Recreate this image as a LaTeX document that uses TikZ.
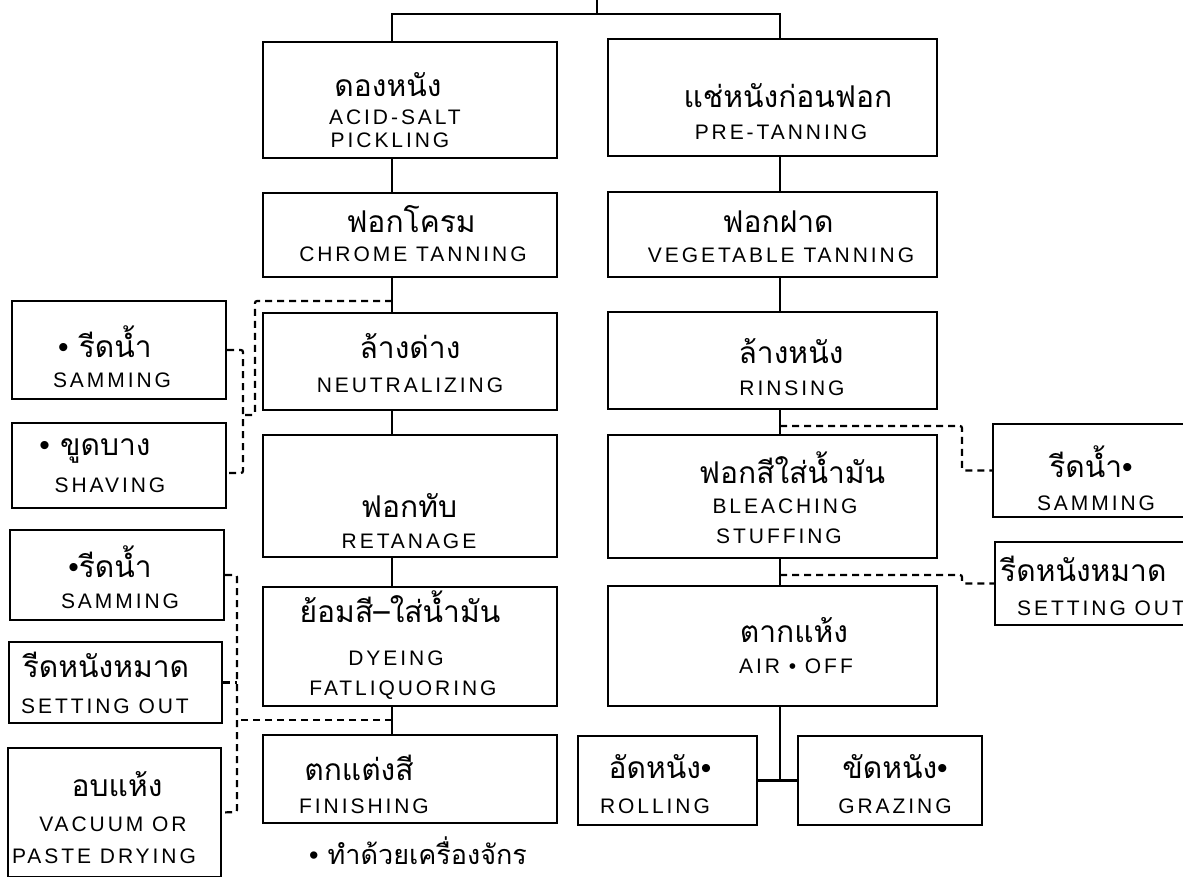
\documentclass[tikz,border=0pt]{standalone}
\usepackage{fontspec}
\newfontfamily\thaif[Script=Thai]{Loma}
\newfontfamily\enf[LetterSpace=14]{Liberation Sans}
\newfontfamily\bltf{Liberation Sans}
\newcommand\bl{{\bltf •}}
\newcommand\boxat[5]{\node[procbox, minimum width={#4-#2}, minimum height={#5-#3}] (#1) at ({(#2+#4)/2},{(#3+#5)/2}) {};}
\begin{document}
\begin{tikzpicture}[x=1pt,y=-1pt,
  procbox/.style={draw, line width=2.2pt, inner sep=0pt},
  conn/.style={line width=2.6pt},
  dsh/.style={line width=2.2pt, dash pattern=on 7pt off 5pt, rounded corners=2pt},
  th/.style={font=\thaif\fontsize{30}{32}\selectfont, inner sep=0pt, anchor=base},
  en/.style={font=\enf\fontsize{21}{23}\selectfont, inner sep=0pt, anchor=base},
  note/.style={font=\thaif\fontsize{27}{29}\selectfont, inner sep=0pt, anchor=base}]
\useasboundingbox (0,0) rectangle (1183,877);
\clip (0,0) rectangle (1183,877);
\fill[white] (0,0) rectangle (1183,877);
% coordinates
\coordinate (stem) at (597,0);
\coordinate (cl) at (392,14);
\coordinate (cr) at (780,14);
% left column
\boxat{A1}{263}{42}{557}{158}
\boxat{A2}{263}{193}{557}{277}
\boxat{A3}{263}{313}{557}{410}
\boxat{A4}{263}{435}{557}{557}
\boxat{A5}{263}{587}{557}{706}
\boxat{A6}{263}{735}{557}{823}
% right column
\boxat{B1}{608}{39}{937}{156}
\boxat{B2}{608}{192}{937}{277}
\boxat{B3}{608}{312}{937}{409}
\boxat{B4}{608}{435}{937}{558}
\boxat{B5}{608}{586}{937}{706}
\boxat{Ro}{578}{736}{757}{825}
\boxat{Gr}{798}{736}{982}{825}
% left side
\boxat{L1}{12}{301}{226}{399}
\boxat{L2}{12}{423}{226}{508}
\boxat{L3}{10}{530}{224}{620}
\boxat{L4}{9}{642}{222}{723}
\boxat{L5}{8}{748}{221}{877}
% right side
\boxat{R1}{993}{424}{1195}{517}
\boxat{R2}{995}{542}{1195}{625}
% texts
\node[th] (A1t) at (388,97) {ดองหนัง};
\node[en] (A1e) at (395,125) {ACID-SALT};
\node[en] (A1f) at (390,148) {PICKLING};
\node[th] (A2t) at (411,233) {ฟอกโครม};
\node[en] (A2e) at (413,262) {CHROME TANNING};
\node[th] (A3t) at (410,358) {ล้างด่าง};
\node[en] (A3e) at (410,392) {NEUTRALIZING};
\node[th] (A4t) at (409,517) {ฟอกทับ};
\node[en] (A4e) at (409,548) {RETANAGE};
\node[th] (A5t) at (400,622) {ย้อมสี–ใส่น้ำมัน};
\node[en] (A5e) at (396,665) {DYEING};
\node[en] (A5f) at (403,695) {FATLIQUORING};
\node[th] (A6t) at (359,780) {ตกแต่งสี};
\node[en] (A6e) at (364,813) {FINISHING};
\node[th] (B1t) at (788,108) {แช่หนังก่อนฟอก};
\node[en] (B1e) at (781,140) {PRE-TANNING};
\node[th] (B2t) at (778,233) {ฟอกฝาด};
\node[en] (B2e) at (781,263) {VEGETABLE TANNING};
\node[th] (B3t) at (791,363) {ล้างหนัง};
\node[en] (B3e) at (792,395) {RINSING};
\node[th] (B4t) at (792,483) {ฟอกสีใส่น้ำมัน};
\node[en] (B4e) at (785,513) {BLEACHING};
\node[en] (B4f) at (779,543) {STUFFING};
\node[th] (B5t) at (794,642) {ตากแห้ง};
\node[en] (B5e) at (796,673) {AIR • OFF};
\node[th] (Rot) at (660,778) {อัดหนัง\bl};
\node[en] (Roe) at (655,813) {ROLLING};
\node[th] (Grt) at (895,778) {ขัดหนัง\bl};
\node[en] (Gre) at (895,813) {GRAZING};
\node[th] (L1t) at (105,357) {\bl\ รีดน้ำ};
\node[en] (L1e) at (112,387) {SAMMING};
\node[th] (L2t) at (95,455) {\bl\ ขูดบาง};
\node[en] (L2e) at (110,492) {SHAVING};
\node[th] (L3t) at (110,577) {\bl รีดน้ำ};
\node[en] (L3e) at (120,608) {SAMMING};
\node[th] (L4t) at (106,677) {รีดหนังหมาด};
\node[en] (L4e) at (105,713) {SETTING OUT};
\node[th] (L5t) at (117,796) {อบแห้ง};
\node[en] (L5e) at (113,831) {VACUUM OR};
\node[en] (L5f) at (104,863) {PASTE DRYING};
\node[th] (R1t) at (1091,477) {รีดน้ำ\bl};
\node[en] (R1e) at (1096,510) {SAMMING};
\node[th, anchor=base west] (R2t) at (1000,581) {รีดหนังหมาด};
\node[en, anchor=base west] (R2e) at (1017,615) {SETTING OUT};
\node[note] (foot) at (418,864) {\bl\ ทำด้วยเครื่องจักร};
% solid connectors
\draw[conn] (stem) -- (stem |- cl);
\draw[conn] (cl |- A1.north) -- (cl) -- (cr) -- (cr |- B1.north);
\draw[conn] (A1.south -| cl) -- (A2.north -| cl);
\draw[conn] (A2.south -| cl) -- (A3.north -| cl);
\draw[conn] (A3.south -| cl) -- (A4.north -| cl);
\draw[conn] (A4.south -| cl) -- (A5.north -| cl);
\draw[conn] (A5.south -| cl) -- (A6.north -| cl);
\draw[conn] (B1.south -| cr) -- (B2.north -| cr);
\draw[conn] (B2.south -| cr) -- (B3.north -| cr);
\draw[conn] (B3.south -| cr) -- (B4.north -| cr);
\draw[conn] (B4.south -| cr) -- (B5.north -| cr);
\draw[conn] (B5.south -| cr) -- (cr |- Ro.east);
\draw[conn] (Ro.east) -- (Gr.west);
% junctions
\coordinate (j1) at (392,301);
\coordinate (j2) at (392,720);
\coordinate (j3) at (780,426);
\coordinate (j4) at (780,575);
% dashed connectors
\draw[dsh] (j1) -- (255,301) -- (255,415) -- (243,415);
\draw[dsh] (L1.east) -- (243,350) -- (243,473) -- (L2.east |- 0,473);
\draw[dsh] (j2) -- (237,720);
\draw[dsh] (L3.east) -- (237,575) -- (237,812) -- (L5.east);
\draw[dsh] (L4.east) -- (237,682.5);
\draw[dsh] (j3) -- (962,426) -- (962,470.5) -- (R1.west);
\draw[dsh] (j4) -- (962,575) -- (962,583.5) -- (R2.west);
\end{tikzpicture}
\end{document}
